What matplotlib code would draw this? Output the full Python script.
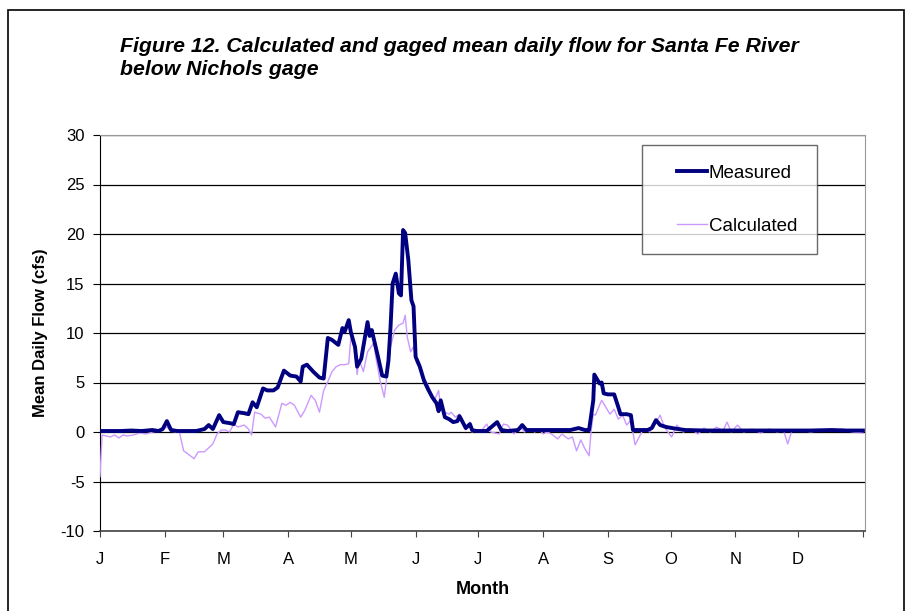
import matplotlib.pyplot as plt
from matplotlib.patches import Rectangle
from matplotlib.lines import Line2D
from matplotlib.legend_handler import HandlerLine2D

plt.rcParams['font.family'] = ['Liberation Sans', 'DejaVu Sans']
plt.rcParams['axes.unicode_minus'] = False

# data: (day of year, flow in cfs)
months = ['J', 'F', 'M', 'A', 'M', 'J', 'J', 'A', 'S', 'O', 'N', 'D']
month_start = [0, 31, 59, 90, 120, 151, 181, 212, 243, 273, 304, 334, 365]

measured = [
    (0, 0.1), (5, 0.1), (10, 0.1), (15, 0.15), (20, 0.1), (25, 0.2), (28, 0.1), (30, 0.3),
    (32, 1.1), (34, 0.2), (37, 0.1), (42, 0.1), (46, 0.1), (50, 0.3), (52, 0.7), (54, 0.3),
    (57, 1.7), (59, 1.0), (62, 0.9), (64, 0.8), (66, 2.0), (69, 1.9), (71, 1.8), (73, 3.0),
    (75, 2.5), (78, 4.4), (80, 4.2), (83, 4.2), (85, 4.5), (88, 6.2), (91, 5.7), (94, 5.6),
    (96, 5.1), (97, 6.6), (99, 6.8), (102, 6.1), (105, 5.5), (107, 5.4), (109, 9.5),
    (111, 9.3), (114, 8.8), (116, 10.5), (117, 10.1), (119, 11.3), (120, 10.1), (122, 8.6),
    (123, 6.6), (125, 7.4), (128, 11.1), (129, 9.7), (130, 10.3), (133, 7.6), (135, 5.7),
    (137, 5.6), (138, 7.2), (139, 10.6), (140, 15.0), (141.5, 16.0), (143, 14.0),
    (144, 13.8), (145, 20.4), (146, 20.1), (147.5, 17.4), (149, 13.3), (150, 12.7),
    (151, 7.6), (153, 6.6), (155, 5.2), (157, 4.3), (159, 3.5), (161, 2.9), (162, 2.1),
    (163, 3.2), (165, 1.5), (167, 1.3), (169, 1.0), (171, 1.1), (172, 1.6), (175, 0.4),
    (177, 0.8), (178, 0.2), (180, 0.1), (185, 0.1), (190, 1.0), (192, 0.2), (195, 0.1),
    (200, 0.2), (202, 0.7), (204, 0.2), (210, 0.2), (215, 0.2), (220, 0.2), (225, 0.2),
    (229, 0.4), (232, 0.2), (234, 0.2), (236, 3.2), (236.5, 5.8), (239, 4.9), (240, 5.0),
    (241, 3.9), (243, 3.8), (246, 3.8), (248, 2.5), (249, 1.8), (252, 1.8), (254, 1.7),
    (255, 0.2), (258, 0.2), (262, 0.2), (264, 0.4), (266, 1.2), (268, 0.7), (271, 0.5),
    (275, 0.35), (280, 0.2), (290, 0.15), (300, 0.15), (310, 0.15), (320, 0.15),
    (330, 0.15), (340, 0.15), (350, 0.2), (357, 0.15), (365, 0.15),
]

calculated = [
    (0, -4.5), (1, -0.3), (3, -0.4), (5, -0.5), (7, -0.3), (9, -0.6), (11, -0.3), (13, -0.4),
    (16, -0.3), (19, -0.1), (22, -0.2), (25, 0.0), (28, 0.1), (30, 0.3), (32, 0.5), (34, 0.1),
    (36, 0.0), (38, 0.0), (40, -1.9), (42, -2.2), (45, -2.7), (47, -2.0), (50, -2.0),
    (52, -1.6), (54, -1.2), (56, -0.2), (58, 0.2), (60, 0.2), (62, 0.0), (64, 0.8), (66, 0.5),
    (69, 0.7), (71, 0.3), (72.5, -0.3), (74, 2.0), (77, 1.8), (79, 1.4), (81, 1.5),
    (83, 0.85), (84, 0.5), (87, 2.9), (89, 2.7), (91, 3.0), (93, 2.7), (96, 1.5), (98, 2.2),
    (101, 3.7), (103, 3.2), (105, 2.0), (107, 4.2), (109, 5.1), (111, 6.1), (113, 6.6),
    (115, 6.8), (117, 6.8), (119, 6.9), (120, 9.5), (122, 8.3), (123, 5.8), (124, 7.3),
    (126, 6.1), (128, 8.1), (131, 9.0), (132, 7.5), (134, 5.2), (136, 3.5), (137, 5.2),
    (139, 8.6), (141, 10.3), (143, 10.8), (145, 11.0), (146, 11.8), (147, 9.6), (148.6, 8.1),
    (150, 8.6), (151.5, 6.9), (153, 6.8), (154, 5.9), (157, 4.7), (160, 3.2), (162, 4.2),
    (163, 2.4), (165, 2.0), (167, 1.8), (168, 2.0), (170, 1.5), (172, 1.8), (175, 0.2),
    (177, 1.0), (178, 0.0), (180, 0.2), (182, 0.0), (185, 0.8), (187, 0.0), (191, -0.2),
    (193, 0.8), (195, 0.7), (198, -0.2), (201, 0.5), (203, 0.0), (206, 0.3), (208, 0.0),
    (210, 0.3), (212, -0.2), (214, 0.0), (216, -0.2), (219, -0.7), (221, -0.2), (224, -0.7),
    (226, -0.5), (228, -1.9), (230, -0.8), (232, -1.7), (234, -2.4), (235, 0.2), (236, 1.8),
    (237, 1.7), (240, 3.2), (242, 2.5), (244, 1.8), (246, 2.3), (248, 1.3), (250, 1.7),
    (252, 0.7), (254, 1.2), (256, -1.3), (258, -0.5), (260, 0.35), (263, 0.0), (265.5, 0.8),
    (268, 1.7), (270, 0.5), (273.5, -0.5), (276, 0.7), (279, 0.0), (283, 0.3), (286, -0.2),
    (289, 0.4), (292, 0.0), (295, 0.5), (298, 0.1), (300, 1.0), (302, 0.0), (305, 0.7),
    (308, 0.0), (312, 0.3), (316, -0.1), (320, 0.3), (324, 0.0), (327, 0.2), (329, -1.2),
    (331, 0.1), (335, 0.2), (340, 0.0), (345, 0.2), (350, 0.1), (355, 0.3), (360, 0.0),
    (365, -0.1),
]

meas_day, meas_val = zip(*measured)
calc_day, calc_val = zip(*calculated)

fig = plt.figure(figsize=(9.1, 6.11), dpi=100)
# outer chart border
fig.patches.append(Rectangle((8 / 910, -0.05), (904 - 8) / 910, 1.05 - 10 / 611,
                             transform=fig.transFigure, fill=False, edgecolor='black', lw=1.2))

ax = fig.add_axes([100 / 910, 1 - 531 / 611, 765 / 910, (531 - 135) / 611])
ax.plot(calc_day, calc_val, color='#CC99FF', lw=1.0, label='Calculated', zorder=3)
ax.plot(meas_day, meas_val, color='#000080', lw=2.8, label='Measured', zorder=4)

ax.set_xlim(0, 366)
ax.set_ylim(-10, 30)
ax.set_yticks(range(-10, 31, 5))
ax.yaxis.grid(True, color='black', lw=0.9)
ax.set_axisbelow(True)

ax.set_xticks(month_start, months + [''])
ax.tick_params(axis='x', length=4, pad=11, direction='out', color='#444444', labelsize=12)
ax.tick_params(axis='y', length=5, pad=6, direction='out', labelsize=12)

for s in ['top', 'right']:
    ax.spines[s].set_color('#999999')
ax.spines['bottom'].set_color('#444444')
ax.spines['bottom'].set_linewidth(1.2)

ax.set_xlabel('Month', fontsize=13, fontweight='bold', labelpad=10)
ax.set_ylabel('Mean Daily Flow (cfs)', fontsize=12, fontweight='bold', labelpad=9)

handles, labels = ax.get_legend_handles_labels()
leg = ax.legend(handles[::-1], labels[::-1], loc='upper left',
                bbox_to_anchor=((642 - 100) / 765, (531 - 145) / 396),
                fontsize=13.5, frameon=True, fancybox=False, edgecolor='#444444',
                handlelength=2.4, handletextpad=0.12, labelspacing=1.9,
                borderpad=1.05, borderaxespad=0,
                handler_map={Line2D: HandlerLine2D(xpad=0.8)})
leg.get_frame().set_linewidth(1.0)

fig.text(120 / 910, 1 - 58 / 611,
         'Figure 12. Calculated and gaged mean daily flow for Santa Fe River\nbelow Nichols gage',
         fontsize=15.3, fontweight='bold', fontstyle='italic', va='center', ha='left',
         linespacing=1.3)

fig.savefig('out.png', dpi=100)
